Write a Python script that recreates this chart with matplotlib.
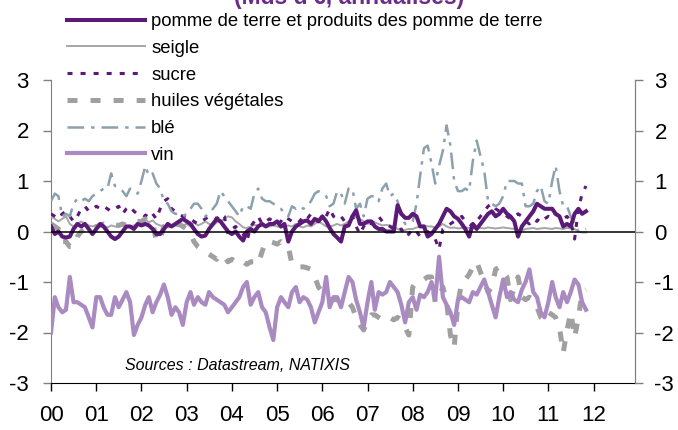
import pandas as pd
import matplotlib
matplotlib.use("Agg")
import matplotlib.pyplot as plt
import matplotlib.dates as mdates

plt.rcParams["font.family"] = ["Liberation Sans", "DejaVu Sans"]
plt.rcParams["lines.scale_dashes"] = False
plt.rcParams["axes.unicode_minus"] = False

# monthly data, Jan 2000 - Nov 2011 (Mds d'EUR, annualises)
months = pd.date_range("2000-01-01", periods=143, freq="MS")

pomme = [
    0.1, -0.05, 0.0, -0.1, -0.12, -0.1, 0.05, 0.15, 0.1, 0.15, 0.05, -0.05,
    0.05, 0.15, 0.1, 0.0, -0.1, -0.15, -0.1, 0.0, 0.1, 0.1, 0.05, 0.15,
    0.12, 0.15, 0.12, 0.05, -0.05, -0.05, 0.05, 0.15, 0.1, 0.15, 0.2, 0.25,
    0.2, 0.15, 0.05, -0.05, -0.1, -0.08, 0.05, 0.15, 0.25, 0.2, 0.1, 0.0,
    -0.05, 0.0, -0.1, -0.18, 0.0, 0.05, 0.0, 0.1, 0.15, 0.1, 0.15, 0.15,
    0.2, 0.1, 0.15, -0.2, 0.0, 0.1, 0.15, 0.2, 0.22, 0.15, 0.25, 0.2,
    0.3, 0.2, 0.07, -0.05, -0.12, -0.2, 0.1, 0.12, 0.3, 0.42, 0.15, 0.15,
    0.2, 0.2, 0.1, 0.05, 0.05, 0.0, 0.0, 0.0, 0.52, 0.35, 0.27, 0.27,
    0.35, 0.3, 0.1, 0.1, -0.1, -0.05, 0.05, 0.15, 0.3, 0.45, 0.4, 0.3,
    0.25, 0.15, 0.05, -0.1, 0.15, 0.05, 0.15, 0.25, 0.35, 0.4, 0.3, 0.35,
    0.45, 0.35, 0.3, 0.2, -0.1, 0.1, 0.2, 0.3, 0.4, 0.55, 0.5, 0.45,
    0.45, 0.45, 0.35, 0.3, 0.1, 0.15, 0.1, 0.35, 0.45, 0.35, 0.4,
]
seigle = [
    0.3, 0.25, 0.2, 0.25, 0.3, 0.15, 0.1, 0.15, 0.2, 0.15, 0.12, 0.1,
    0.12, 0.15, 0.1, 0.08, 0.12, 0.1, 0.1, 0.12, 0.08, 0.1, 0.12, 0.15,
    0.2, 0.25, 0.18, 0.22, 0.15, 0.12, 0.1, 0.08, 0.1, 0.12, 0.1, 0.12,
    0.15, 0.1, 0.18, 0.12, 0.15, 0.2, 0.15, 0.12, 0.18, 0.2, 0.25, 0.3,
    0.28, 0.2, 0.15, 0.08, 0.07, 0.1, 0.13, 0.12, 0.15, 0.1, 0.1, 0.12,
    0.1, 0.08, 0.1, 0.12, 0.1, 0.15, 0.1, 0.08, 0.12, 0.1, 0.15, 0.2,
    0.15, 0.1, 0.1, 0.12, 0.15, 0.12, 0.15, 0.2, 0.25, 0.3, 0.25, 0.2,
    0.15, 0.2, 0.18, 0.15, 0.12, 0.13, 0.12, 0.1, 0.05, 0.02, 0.03, 0.05,
    0.05, 0.08, 0.1, 0.12, 0.1, 0.1, 0.08, 0.1, 0.15, 0.1, 0.07, 0.08,
    0.06, 0.07, 0.08, 0.07, 0.06, 0.08, 0.07, 0.06, 0.08, 0.07, 0.06, 0.07,
    0.08, 0.07, 0.06, 0.05, 0.0, 0.02, 0.05, 0.06, 0.07, 0.05, 0.06, 0.07,
    0.06, 0.05, 0.07, 0.06, 0.05, 0.07, 0.06, 0.05, 0.0, -0.02, -0.02,
]
sucre = [
    0.35, 0.3, 0.25, 0.35, 0.4, 0.3, 0.2, 0.3, 0.45, 0.5, 0.4, 0.45,
    0.5, 0.45, 0.5, 0.45, 0.4, 0.45, 0.5, 0.35, 0.45, 0.5, 0.4, 0.35,
    0.35, 0.3, 0.4, 0.35, 0.25, 0.45, 0.6, 0.65, 0.45, 0.4, 0.35, 0.3,
    0.3, 0.25, 0.2, 0.15, 0.2, 0.25, 0.3, 0.3, 0.25, 0.35, 0.3, -0.05,
    0.05, 0.1, 0.0, -0.05, -0.2, 0.1, 0.2, 0.3, 0.15, 0.2, 0.25, 0.2,
    0.15, 0.2, 0.3, 0.25, 0.2, 0.15, 0.2, 0.3, 0.25, 0.35, 0.3, 0.2,
    0.25, 0.3, 0.45, 0.3, 0.25, 0.3, 0.2, 0.25, 0.3, 0.1, -0.05, 0.1,
    0.2, 0.15, 0.25, 0.3, 0.2, 0.15, 0.1, 0.05, 0.0, 0.05, -0.1, -0.05,
    0.05, 0.0, -0.1, -0.05, 0.0, -0.1, -0.15, -0.35, 0.05, 0.1, 0.15, 0.2,
    0.25, 0.3, 0.2, 0.15, 0.1, 0.2, 0.3, 0.4, 0.5, 0.55, 0.45, 0.4,
    0.35, 0.3, 0.25, 0.3, 0.35, 0.3, 0.2, 0.15, 0.25, 0.2, 0.3, 0.25,
    0.3, 0.25, 0.35, 0.3, 0.25, 0.3, 0.2, -0.15, 0.45, 0.75, 0.9,
]
huiles = [
    0.15, 0.1, 0.05, -0.2, -0.2, -0.3, -0.3, -0.1, 0.0, 0.05, 0.0, 0.05,
    0.1, 0.12, 0.15, 0.12, 0.1, 0.13, 0.12, 0.15, 0.12, 0.15, 0.2, 0.2,
    0.2, 0.25, 0.2, 0.2, -0.2, -0.15, 0.1, 0.15, 0.15, 0.12, 0.15, 0.1,
    0.05, -0.05, -0.2, -0.3, -0.35, -0.4, -0.45, -0.5, -0.55, -0.45, -0.5, -0.6,
    -0.55, -0.6, -0.65, -0.6, -0.65, -0.6, -0.6, -0.65, -0.4, -0.2, -0.2, -0.22,
    -0.25, -0.2, -0.25, -0.3, -0.65, -0.7, -0.7, -0.7, -0.72, -0.75, -0.9, -1.1,
    -1.2, -1.3, -1.35, -1.35, -1.35, -1.4, -1.4, -1.4, -1.5, -1.7, -1.85, -1.95,
    -1.75, -1.65, -1.65, -1.7, -1.75, -1.75, -1.7, -1.75, -1.7, -1.75, -1.9, -2.05,
    -1.1, -1.0, -0.95, -0.95, -0.9, -0.9, -1.4, -1.3, -1.1, -1.4, -2.05, -2.3,
    -1.4, -1.0, -0.95, -0.85, -0.7, -0.6, -0.8, -1.0, -1.2, -1.1, -0.75, -0.7,
    -0.8, -0.9, -1.35, -1.1, -0.9, -1.3, -1.35, -1.3, -1.35, -1.5, -1.7, -1.75,
    -1.6, -1.65, -1.7, -1.9, -2.4, -1.95, -1.6, -2.1, -1.7, -1.2, -1.15,
]
ble = [
    0.6, 0.75, 0.7, 0.3, 0.35, 0.3, 0.55, 0.65, 0.6, 0.65, 0.6, 0.7,
    0.75, 0.8, 0.85, 0.85, 1.15, 0.9, 0.85, 0.8, 0.7, 0.85, 0.8, 0.75,
    1.0, 1.3, 1.1, 1.15, 0.95, 0.85, 0.6, 0.55, 0.4, 0.35, 0.35, 0.3,
    0.35, 0.45, 0.55, 0.55, 0.45, 0.3, 0.35, 0.45, 0.55, 0.8, 0.7, 0.6,
    0.5, 0.4, 0.3, 0.5, 0.5, 0.45, 0.75, 0.85, 0.65, 0.6, 0.6, 0.55,
    0.5, 0.45, 0.35, 0.3, 0.5, 0.45, 0.5, 0.45, 0.5, 0.6, 0.75, 0.8,
    0.75, 0.7, 0.5, 0.55, 0.8, 0.75, 0.55, 0.85, 0.85, 0.45, 0.55, 0.3,
    0.65, 0.7, 0.7, 0.6, 0.85, 0.95, 0.7, 0.75, 0.6, 0.3, 0.15, 0.15,
    0.2, 0.55, 1.1, 1.65, 1.7, 1.35, 0.95, 1.3, 1.6, 2.1, 1.7, 1.0,
    0.8, 0.8, 0.85, 0.8, 1.4, 1.8, 1.5, 1.2, 0.6, 0.55, 0.5, 0.55,
    0.7, 1.0, 1.0, 1.0, 0.95, 0.95, 0.5, 0.5, 0.55, 0.8, 0.9, 0.6,
    0.55, 1.0, 1.3, 0.8, 0.5, 0.5, 0.3, 0.15, 0.0, 0.0, 0.05,
]
vin = [
    -2.0, -1.3, -1.5, -1.6, -1.55, -0.9, -1.4, -1.4, -1.45, -1.5, -1.7, -1.9,
    -1.3, -1.3, -1.5, -1.65, -1.65, -1.3, -1.5, -1.35, -1.2, -1.4, -2.05, -1.85,
    -1.7, -1.45, -1.3, -1.6, -1.4, -1.25, -1.05, -1.3, -1.65, -1.5, -1.6, -1.85,
    -1.4, -1.2, -1.45, -1.3, -1.4, -1.45, -1.2, -1.3, -1.35, -1.4, -1.45, -1.6,
    -1.5, -1.4, -1.3, -1.1, -1.0, -1.45, -1.3, -1.2, -1.5, -1.6, -1.9, -2.15,
    -1.5, -1.3, -1.4, -1.5, -1.2, -1.1, -1.4, -1.3, -1.35, -1.5, -1.8, -1.6,
    -1.4, -0.9, -1.5, -1.3, -1.3, -1.5, -1.2, -0.9, -1.0, -1.35, -1.6, -1.9,
    -1.4, -1.0, -1.55, -1.2, -1.25, -1.2, -1.0, -1.1, -1.2, -1.45, -1.8, -1.4,
    -1.3, -1.55, -1.25, -1.3, -1.2, -1.0, -1.35, -0.5, -1.3, -1.45, -1.6, -1.85,
    -1.35, -1.3, -1.35, -1.4, -1.2, -1.25, -1.1, -0.95, -1.2, -1.45, -1.7, -1.3,
    -0.95, -1.3, -1.2, -1.35, -1.4, -1.15, -1.0, -0.75, -1.2, -1.3, -1.6, -1.7,
    -1.4, -1.0, -1.3, -1.5, -1.2, -1.4, -1.2, -0.95, -1.05, -1.4, -1.55,
]

labels = [
    "pomme de terre et produits des pomme de terre",
    "seigle",
    "sucre",
    "huiles végétales",
    "blé",
    "vin",
]
year_ticks = pd.date_range("2000-01-01", "2012-01-01", freq="YS")

fig = plt.figure(figsize=(6.78, 4.30), dpi=100)
ax = fig.add_axes([51 / 678, 1 - 383 / 430, (635 - 51) / 678, (383 - 80) / 430])

h_pomme, = ax.plot(months, pomme, color="#5B1A78", lw=2.9, zorder=6)
h_seigle, = ax.plot(months, seigle, color="#A6A6A6", lw=1.4, zorder=3)
h_sucre, = ax.plot(months, sucre, color="#5B1A78", lw=2.2,
                   dashes=(3.6, 5.8), zorder=4)
h_huiles, = ax.plot(months, huiles, color="#A0A0A0", lw=3.6,
                    dashes=(7.2, 9.4), zorder=4)
h_ble, = ax.plot(months, ble, color="#8CA1AD", lw=1.8,
                 dashes=(12.0, 5.0, 2.5, 5.0), zorder=4)
h_vin, = ax.plot(months, vin, color="#A98BC2", lw=3.0, zorder=5)

ax.axhline(0, color="black", lw=1.1, zorder=7)

ax.set_ylim(-3, 3)
ax.set_xlim(pd.Timestamp("2000-01-01"), pd.Timestamp("2012-12-01"))
ax.set_yticks(range(-3, 4))
ax.set_xticks(year_ticks)
ax.xaxis.set_major_formatter(mdates.DateFormatter("%y"))

ax.spines["top"].set_visible(False)
ax.spines["left"].set_color("#808080")
ax.spines["right"].set_color("#808080")
ax.spines["bottom"].set_color("black")

ax.tick_params(axis="x", length=6, width=1, color="black", pad=10,
               labelsize=16)
ax.tick_params(axis="y", length=6, width=1, color="#808080", pad=10,
               labelsize=16)

ax2 = ax.twinx()
ax2.set_ylim(-3, 3)
ax2.set_yticks(range(-3, 4))
for side in ["top", "left", "bottom"]:
    ax2.spines[side].set_visible(False)
ax2.spines["right"].set_color("#808080")
ax2.tick_params(axis="y", length=6, width=1, color="#808080", pad=8,
                labelsize=16)

leg = ax.legend(
    [h_pomme, h_seigle, h_sucre, h_huiles, h_ble, h_vin], labels,
    loc="upper left", bbox_to_anchor=(67 / 678, 1 - 13 / 430),
    bbox_transform=fig.transFigure, frameon=False, fontsize=13.3,
    handlelength=4.2, handletextpad=0.35, labelspacing=0.53,
    borderpad=0, borderaxespad=0,
)
leg.set_zorder(10)

fig.text(125 / 678, 1 - 365 / 430, "Sources : Datastream, NATIXIS",
         fontsize=11.5, style="italic", ha="left", va="center")

# title sits mostly above the picture, as in the source
fig.text(349 / 678, 1 - 4 / 430, "(Mds d'€, annualisés)", fontsize=16.5,
         fontweight="bold", color="#6B2D87", ha="center", va="baseline")

fig.savefig("out.png", dpi=100)
